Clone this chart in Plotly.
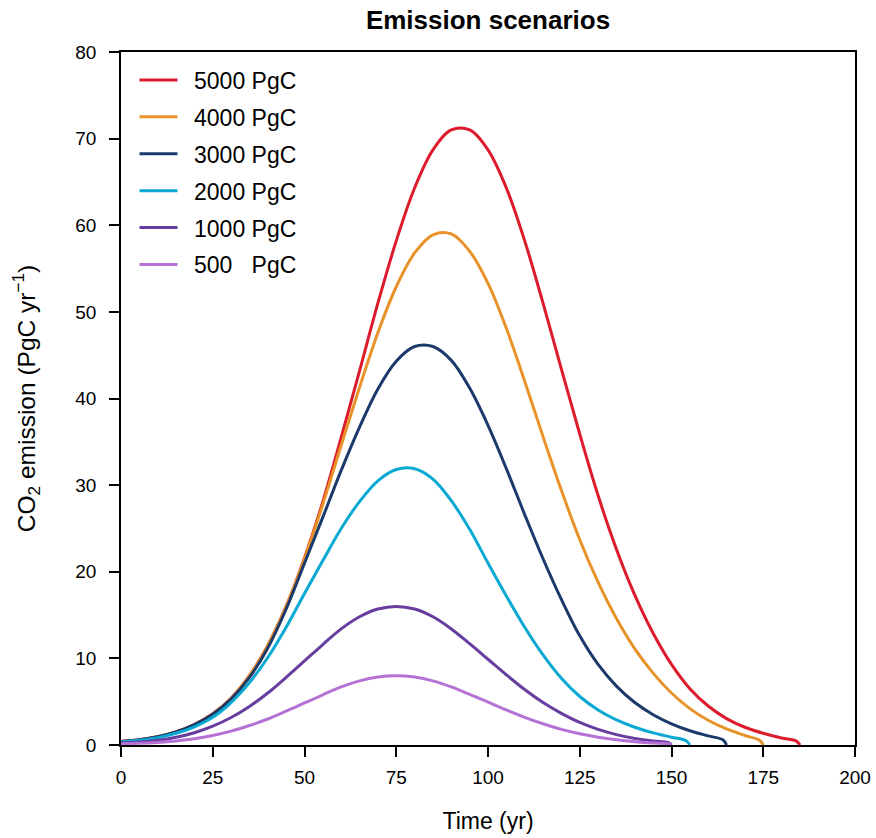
import plotly.graph_objects as go

# Emission pathways (PgC per year) for six cumulative-emission scenarios,
# sampled every 5 yr; each pathway closes at zero at its end year.
years_5000 = [0, 5, 10, 15, 20, 25, 30, 35, 40, 45, 50, 55, 60, 65, 70, 75, 80, 85, 90, 95,
              100, 105, 110, 115, 120, 125, 130, 135, 140, 145, 150, 155, 160, 165, 170, 175,
              180, 184, 185]
emis_5000 = [0.4, 0.6, 0.95, 1.5, 2.35, 3.6, 5.4, 8.0, 11.5, 16.0, 21.6, 28.1, 35.5, 43.2, 51.0,
             58.2, 64.3, 68.7, 71.0, 71.0, 68.7, 64.3, 58.2, 51.0, 43.4, 35.9, 28.8, 22.6, 17.3,
             12.9, 9.3, 6.5, 4.5, 3.05, 2.05, 1.35, 0.8, 0.45, 0.0]

years_4000 = [0, 5, 10, 15, 20, 25, 30, 35, 40, 45, 50, 55, 60, 65, 70, 75, 80, 85, 90, 95,
              100, 105, 110, 115, 120, 125, 130, 135, 140, 145, 150, 155, 160, 165, 170, 174, 175]
emis_4000 = [0.4, 0.6, 0.95, 1.5, 2.35, 3.6, 5.4, 8.0, 11.5, 16.0, 21.5, 27.8, 34.6, 41.3, 47.6,
             52.9, 56.8, 58.9, 59.0, 57.0, 53.3, 48.1, 42.0, 35.6, 29.4, 23.7, 18.8, 14.6, 11.1,
             8.3, 6.0, 4.2, 2.85, 1.85, 1.1, 0.55, 0.0]

years_3000 = [0, 5, 10, 15, 20, 25, 30, 35, 40, 45, 50, 55, 60, 65, 70, 75, 80, 85, 90, 95,
              100, 105, 110, 115, 120, 125, 130, 135, 140, 145, 150, 155, 160, 164, 165]
emis_3000 = [0.4, 0.6, 0.95, 1.5, 2.35, 3.55, 5.3, 7.8, 11.2, 15.7, 21.0, 26.3, 31.7, 36.7, 41.1,
             44.3, 46.0, 46.0, 44.4, 41.2, 36.9, 31.9, 26.6, 21.5, 16.8, 12.6, 9.3, 6.8, 4.9,
             3.5, 2.45, 1.65, 1.05, 0.6, 0.0]

years_2000 = [0, 5, 10, 15, 20, 25, 30, 35, 40, 45, 50, 55, 60, 65, 70, 75, 80, 85, 90, 95,
              100, 105, 110, 115, 120, 125, 130, 135, 140, 145, 150, 154, 155]
emis_2000 = [0.35, 0.55, 0.85, 1.35, 2.1, 3.2, 4.9, 7.2, 10.1, 13.6, 17.5, 21.3, 25.0, 28.1, 30.5,
             31.8, 31.9, 30.7, 28.2, 24.9, 21.0, 17.2, 13.6, 10.4, 7.7, 5.6, 4.05, 2.9, 2.05,
             1.4, 0.9, 0.5, 0.0]

years_1000 = [0, 5, 10, 15, 20, 25, 30, 35, 40, 45, 50, 55, 60, 65, 70, 75, 80, 85, 90, 95,
              100, 105, 110, 115, 120, 125, 130, 135, 140, 145, 149, 150]
emis_1000 = [0.25, 0.35, 0.55, 0.9, 1.42, 2.17, 3.17, 4.45, 6.0, 7.8, 9.7, 11.6, 13.4, 14.8, 15.7,
             16.0, 15.7, 14.8, 13.4, 11.7, 9.9, 8.1, 6.4, 4.9, 3.65, 2.6, 1.8, 1.2, 0.75,
             0.45, 0.3, 0.0]

years_500 = [0, 5, 10, 15, 20, 25, 30, 35, 40, 45, 50, 55, 60, 65, 70, 75, 80, 85, 90, 95,
             100, 105, 110, 115, 120, 125, 130, 135, 140, 145, 149, 150]
emis_500 = [0.15, 0.2, 0.3, 0.47, 0.72, 1.1, 1.6, 2.25, 3.0, 3.9, 4.85, 5.8, 6.7, 7.4, 7.85,
            8.0, 7.85, 7.4, 6.7, 5.85, 4.95, 4.05, 3.2, 2.45, 1.8, 1.3, 0.9, 0.6, 0.38,
            0.22, 0.14, 0.0]

# en space in front of each name pushes the text clear of the longer legend line
scenario_names = ["\u20025000 PgC", "\u20024000 PgC", "\u20023000 PgC", "\u20022000 PgC",
                  "\u20021000 PgC", "\u2002500\u00a0\u00a0\u00a0PgC"]
scenario_colors = ["#dc1c2c", "#e8932a", "#1b3a6b", "#0aa9d3", "#673da0", "#b571d3"]
scenario_years = [years_5000, years_4000, years_3000, years_2000, years_1000, years_500]
scenario_emis = [emis_5000, emis_4000, emis_3000, emis_2000, emis_1000, emis_500]

x_ticks = [0, 25, 50, 75, 100, 125, 150, 175, 200]
y_ticks = [0, 10, 20, 30, 40, 50, 60, 70, 80]

FONT = "Liberation Sans, Arial, Helvetica, sans-serif"

fig = go.Figure()
for i, (name, col, xs, ys) in enumerate(zip(scenario_names, scenario_colors,
                                              scenario_years, scenario_emis)):
    fig.add_trace(go.Scatter(
        x=xs, y=ys, mode="lines", name=name, legendgroup=f"g{i}",
        line=dict(color=col, width=3, shape="spline", smoothing=1.0),
    ))

axis_common = dict(
    showline=True, linecolor="black", linewidth=1.5, mirror=True,
    ticks="outside", ticklen=10, tickwidth=1.5, tickcolor="black",
    showgrid=False, zeroline=False, automargin=False,
    tickfont=dict(family=FONT, size=19, color="black"),
)

fig.update_layout(
    width=876, height=838,
    margin=dict(l=121, r=21, t=52, b=93),
    paper_bgcolor="white", plot_bgcolor="white",
    font=dict(family=FONT, color="black"),
    title=dict(text="<b>Emission scenarios</b>", x=0.5, xref="paper",
               y=1, yref="container", yanchor="top", pad=dict(t=11),
               font=dict(family=FONT, size=26, color="black")),
    xaxis=dict(range=[0, 200], tickvals=x_ticks, ticklabelstandoff=4,
               title=dict(text="Time (yr)", font=dict(family=FONT, size=23), standoff=26),
               **axis_common),
    yaxis=dict(range=[0, 80], tickvals=y_ticks, ticklabelstandoff=9,
               title=dict(text="CO<sub>2</sub> emission (PgC yr<sup>\u22121</sup>)",
                          font=dict(family=FONT, size=24.5), standoff=33),
               **axis_common),
    showlegend=True,
    legend=dict(x=0.0184, y=0.9906, xanchor="left", yanchor="top",
                bgcolor="rgba(0,0,0,0)", borderwidth=0,
                font=dict(family=FONT, size=23, color="black"),
                tracegroupgap=4, itemwidth=38),
)

fig.write_html("out.html")
